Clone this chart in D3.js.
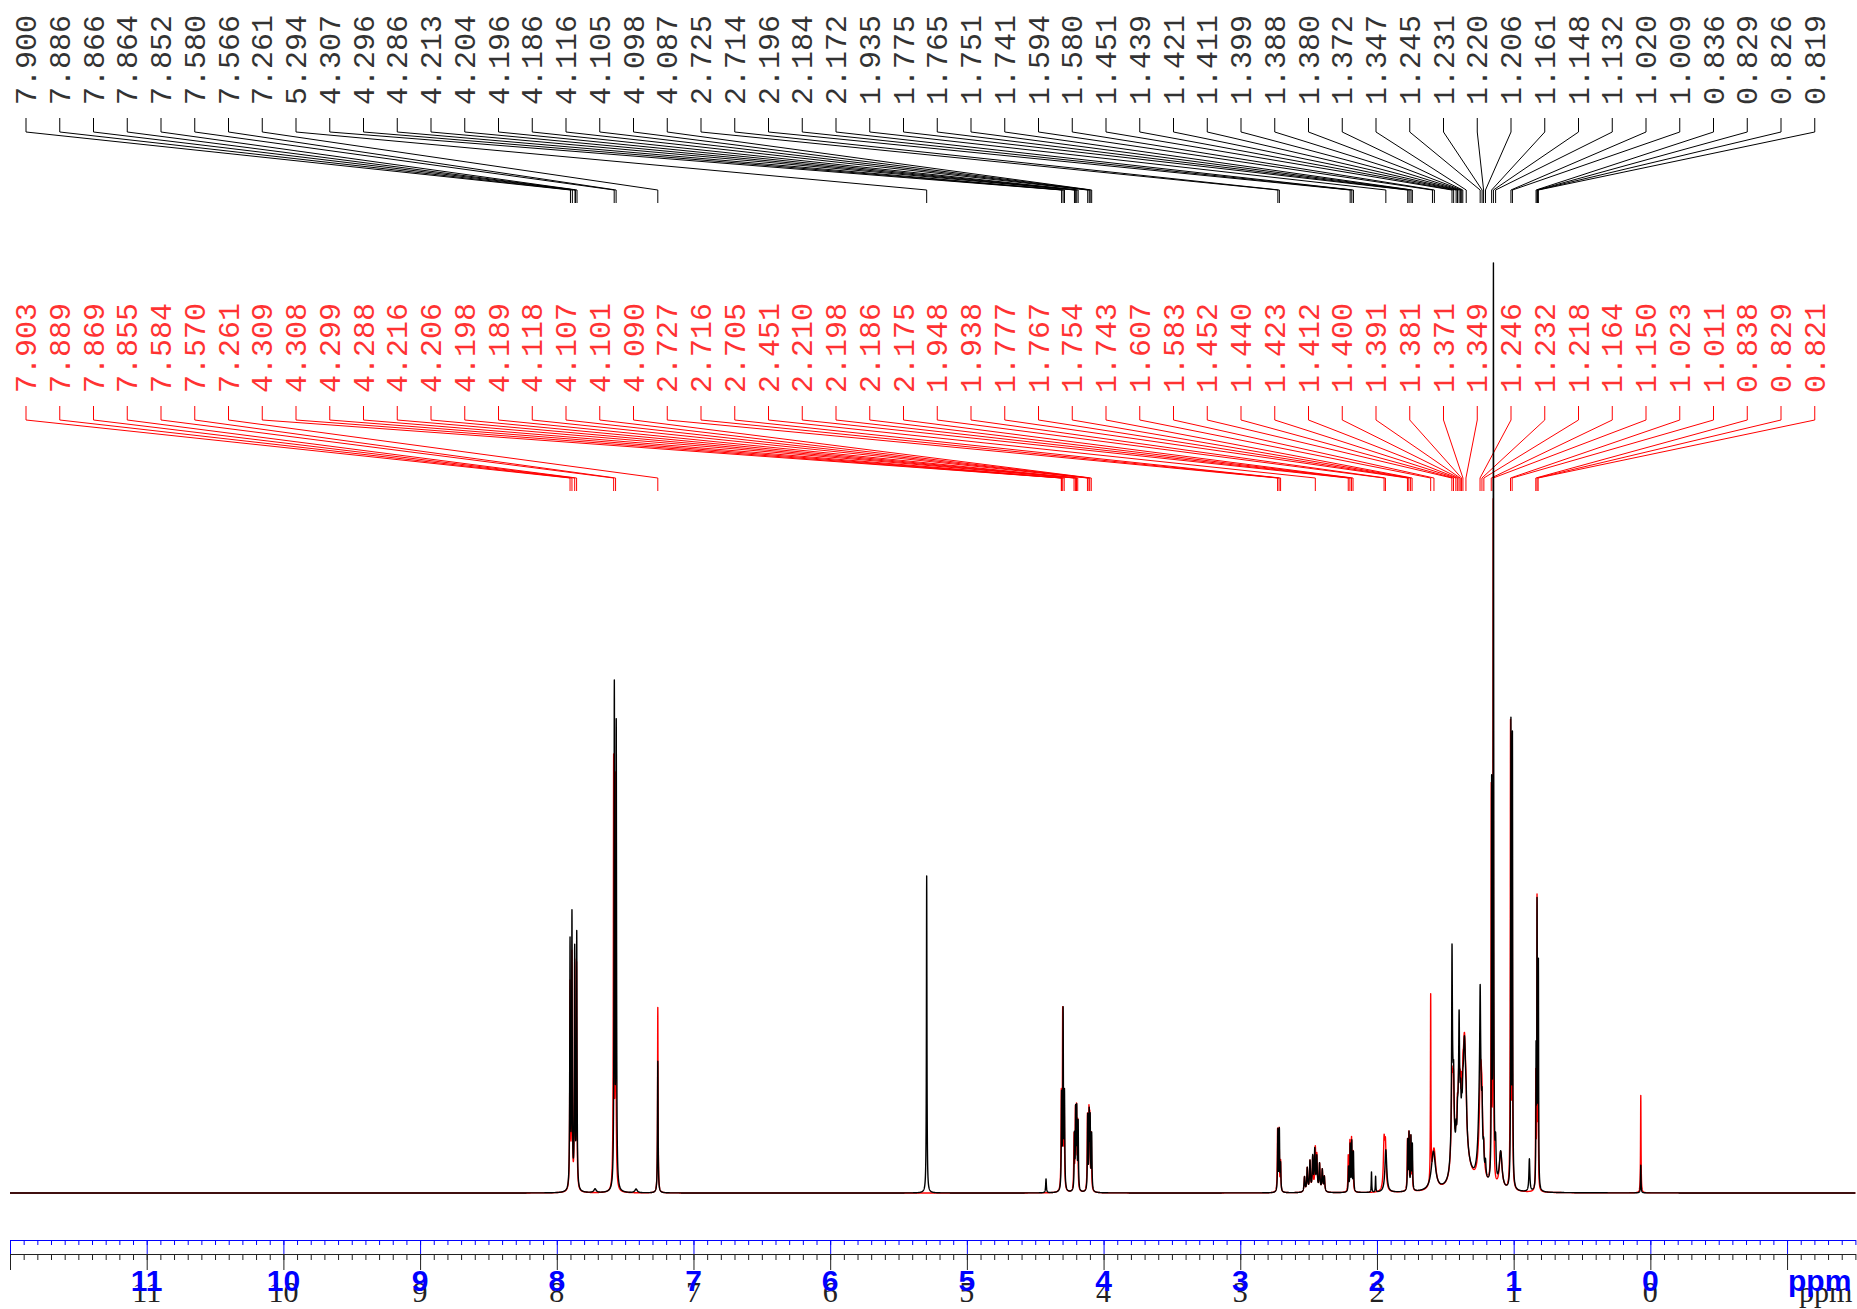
<!DOCTYPE html>
<meta charset="utf-8">
<style>
    body{ margin:0; background:#fff; }
    svg{ display:block; }
    .lbl{ font-family:"Liberation Mono", monospace; font-size:30px; opacity:0.8; }
    .blue{ font-family:"Liberation Sans", Arial, sans-serif; font-size:30px; font-weight:bold; fill:#0000ff; }
    .black{ font-family:"Liberation Serif", serif; font-size:30px; fill:#222; }
</style>
<body>
<svg id="nmr" width="1857" height="1309"></svg>
<script src="https://d3js.org/d3.v7.min.js"></script>
<script>
// peak pick labels, left to right
var blackLabels = ["7.900","7.886","7.866","7.864","7.852","7.580","7.566","7.261","5.294",
    "4.307","4.296","4.286","4.213","4.204","4.196","4.186","4.116","4.105","4.098","4.087",
    "2.725","2.714","2.196","2.184","2.172","1.935","1.775","1.765","1.751","1.741","1.594","1.580",
    "1.451","1.439","1.421","1.411","1.399","1.388","1.380","1.372","1.347","1.245","1.231","1.220",
    "1.206","1.161","1.148","1.132","1.020","1.009","0.836","0.829","0.826","0.819"];
var redLabels = ["7.903","7.889","7.869","7.855","7.584","7.570","7.261","4.309","4.308","4.299",
    "4.288","4.216","4.206","4.198","4.189","4.118","4.107","4.101","4.090","2.727","2.716","2.705",
    "2.451","2.210","2.198","2.186","2.175","1.948","1.938","1.777","1.767","1.754","1.743","1.607",
    "1.583","1.452","1.440","1.423","1.412","1.400","1.391","1.381","1.371","1.349","1.246","1.232",
    "1.218","1.164","1.150","1.023","1.011","0.838","0.829","0.821"];

// peaks: [ppm, intensity (tallest = 100), half width ppm]
var blackPeaks = [
    [7.903,26.5,.0025],[7.889,29.2,.0025],[7.869,25.5,.0025],[7.854,27.4,.0025],
    [7.72,0.4,.01],[7.42,0.4,.01],
    [7.579,53.8,.0025],[7.565,49.5,.0025],[7.261,14.2,.0025],[5.294,34.2,.0022],[4.421,1.5,.003],
    [4.307,10.0,.0025],[4.296,19.0,.0025],[4.286,10.0,.0025],
    [4.213,5.8,.0025],[4.204,8.2,.0025],[4.196,8.3,.0025],[4.186,7.2,.0025],
    [4.116,8.0,.0025],[4.105,7.9,.0025],[4.098,7.3,.0025],[4.087,6.0,.0025],
    [2.725,6.6,.0025],[2.714,6.5,.0025],[2.705,2.8,.0025],
    [2.53,1.6,.004],[2.51,2.5,.004],[2.49,3.2,.004],[2.47,3.6,.004],[2.455,4.3,.004],
    [2.44,3.6,.004],[2.42,2.9,.004],[2.40,2.3,.004],[2.385,1.6,.004],
    [2.208,2.6,.0025],[2.196,5.0,.0025],[2.184,5.3,.0025],[2.172,4.2,.0025],
    [2.04,2.2,.002],[2.01,1.7,.002],[1.935,4.6,.008],
    [1.775,5.3,.0025],[1.765,6.0,.0025],[1.751,5.6,.0025],[1.741,4.8,.0025],
    [1.587,4.2,.018],
    [1.445,9,.012],[1.40,8,.012],[1.36,13.5,.013],[1.35,2,.06],[1.245,13,.013],
    [1.451,18,.003],[1.439,4,.003],[1.421,2,.003],[1.411,2,.003],[1.399,8,.003],
    [1.388,3,.003],[1.380,2,.003],[1.372,2,.003],[1.347,2,.004],
    [1.245,8.4,.003],[1.231,4,.003],[1.220,2,.003],[1.206,1.5,.004],
    [1.161,42,.002],[1.148,98.4,.002],[1.132,4,.004],[1.095,4.0,.012],
    [1.020,49.5,.002],[1.009,48,.002],[0.885,3.5,.004],
    [0.836,14,.0018],[0.829,27,.0018],[0.826,12,.0018],[0.819,23.5,.0018],
    [0.07,3,.002]
];
var redPeaks = [
    [7.903,22,.0025],[7.889,25,.0025],[7.869,24,.0025],[7.855,24,.0025],
    [7.584,46,.0025],[7.570,44,.0025],[7.261,20.0,.0022],
    [4.309,10.0,.0025],[4.299,19.0,.0025],[4.288,10.0,.0025],
    [4.216,5.8,.0025],[4.206,8.2,.0025],[4.198,8.3,.0025],[4.189,7.2,.0025],
    [4.118,8.0,.0025],[4.107,7.9,.0025],[4.101,7.3,.0025],[4.090,6.0,.0025],
    [2.727,6.6,.0025],[2.716,6.6,.0025],[2.705,3.2,.0025],
    [2.53,1.6,.004],[2.51,2.5,.004],[2.49,3.2,.004],[2.47,3.6,.004],[2.451,4.4,.004],
    [2.44,3.6,.004],[2.42,2.9,.004],[2.40,2.3,.004],[2.385,1.6,.004],
    [2.210,3.8,.0025],[2.198,5.3,.0025],[2.186,5.6,.0025],[2.175,4.2,.0025],
    [1.948,5.0,.006],[1.938,4.6,.006],
    [1.777,5.3,.0025],[1.767,6.0,.0025],[1.754,5.6,.0025],[1.743,4.8,.0025],
    [1.607,20,.002],[1.583,4.4,.015],
    [1.445,9,.012],[1.40,8,.012],[1.36,13.5,.013],[1.35,2,.06],[1.24,13,.013],
    [1.452,5,.004],[1.440,3,.004],[1.423,1.5,.004],[1.412,3,.004],[1.400,2,.004],
    [1.391,3,.004],[1.381,4,.004],[1.371,3,.004],[1.349,2,.004],
    [1.246,1.5,.003],[1.232,2,.003],[1.218,1.5,.004],
    [1.164,42,.002],[1.150,73.3,.002],[1.095,4,.012],
    [1.023,49.5,.002],[1.011,48,.002],
    [0.838,12,.0018],[0.829,31,.0018],[0.821,15,.0018],
    [0.07,10.5,.002]
];

var majorTicks = d3.range(12, -2, -1);          // 12 .. -1
var minorTicks = d3.range(120, -16, -1).map(function(v){ return v/10; });
var tickLabels = ["11","10","9","8","7","6","5","4","3","2","1","0"];
var tickLabelPpm = [11,10,9,8,7,6,5,4,3,2,1,0];

var svg = d3.select("#nmr");
var x = d3.scaleLinear().domain([12, -1.5]).range([10, 1855.4]);
var y = d3.scaleLinear().domain([0, 100]).range([1193, 266]);

function spectrum(peaks){
    var pts = [];
    for (var i = 0; i <= 27000; i++){
        var p = 12 - i*0.0005, s = 0;
        for (var k = 0; k < peaks.length; k++){
            var d = p - peaks[k][0], w = peaks[k][2];
            s += peaks[k][1]*w*w/(d*d + w*w);
        }
        pts.push([p, s]);
    }
    return pts;
}

function labels(list, color, off){
    var pos = d3.scalePoint().domain(d3.range(list.length)).range([26, 1814.75]);
    var g = svg.append("g");
    g.selectAll("text").data(list).enter().append("text")
        .attr("class", "lbl")
        .attr("fill", color)
        .attr("transform", function(d, i){ return "translate(" + (pos(i)+10) + "," + (105+off) + ") rotate(-90)"; })
        .text(function(d){ return d; });
    g.selectAll("path").data(list).enter().append("path")
        .attr("d", function(d, i){
            return "M" + pos(i) + "," + (118+off) + "V" + (132+off) +
                   "L" + x(+d) + "," + (190+off) + "V" + (203+off);
        })
        .attr("fill", "none")
        .attr("stroke", color)
        .attr("stroke-width", 1);
}

labels(blackLabels, "#000", 0);
labels(redLabels, "#ff0000", 288);

// axes: blue on top, black underneath
function axis(ypos, color, majLen, minLen){
    var g = svg.append("g").attr("transform", "translate(0," + ypos + ")");
    g.append("g").call(d3.axisBottom(x).tickValues(minorTicks).tickSize(minLen).tickSizeOuter(0).tickFormat(""));
    g.append("g").call(d3.axisBottom(x).tickValues(majorTicks).tickSize(majLen).tickSizeOuter(0).tickFormat(""));
    g.selectAll("path, line").attr("stroke", color).attr("stroke-width", 1);
}
axis(1240, "#0000ff", 14, 5);
axis(1254, "#222", 16, 6);

svg.append("g").selectAll("text").data(tickLabels).enter().append("text")
    .attr("class", "black").attr("text-anchor", "middle")
    .attr("x", function(d, i){ return x(tickLabelPpm[i]); }).attr("y", 1302)
    .text(function(d){ return d; });
svg.append("text").attr("class", "black").attr("x", x(-1)+12).attr("y", 1302).text("ppm");

svg.append("g").selectAll("text").data(tickLabels).enter().append("text")
    .attr("class", "blue").attr("text-anchor", "middle")
    .attr("x", function(d, i){ return x(tickLabelPpm[i]); }).attr("y", 1291)
    .text(function(d){ return d; });
svg.append("text").attr("class", "blue").attr("x", x(-1)+1).attr("y", 1291).text("ppm");

// spectra, red underneath black
var line = d3.line().x(function(d){ return x(d[0]); }).y(function(d){ return y(d[1]); });
svg.append("path").datum(spectrum(redPeaks))
    .attr("d", line).attr("fill", "none").attr("stroke", "#ff0000")
    .attr("stroke-width", 1.4).attr("stroke-linejoin", "round");
svg.append("path").datum(spectrum(blackPeaks))
    .attr("d", line).attr("fill", "none").attr("stroke", "#000")
    .attr("stroke-width", 1.4).attr("stroke-linejoin", "round");
</script>
</body>
